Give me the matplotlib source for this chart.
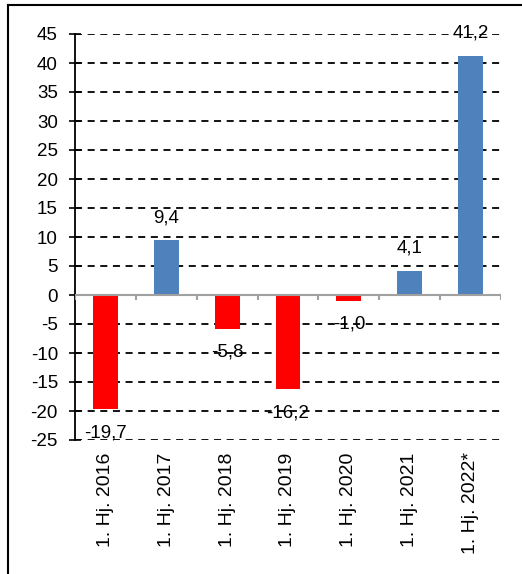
import matplotlib
matplotlib.use('Agg')
import matplotlib.pyplot as plt
from matplotlib.lines import Line2D

plt.rcParams.update({'font.family': ['Liberation Sans', 'DejaVu Sans'], 'font.size': 13.5})

categories = ['1. Hj. 2016', '1. Hj. 2017', '1. Hj. 2018', '1. Hj. 2019',
              '1. Hj. 2020', '1. Hj. 2021', '1. Hj. 2022*']
values = [-19.7, 9.4, -5.8, -16.2, -1.0, 4.1, 41.2]
labels = ['-19,7', '9,4', '-5,8', '-16,2', '-1,0', '4,1', '41,2']
yticks = list(range(-25, 50, 5))

W, H = 522, 574
fig = plt.figure(figsize=(W/100, H/100), dpi=100, facecolor='white')
ax = fig.add_axes([75/W, 1-440/H, (501-75)/W, (440-34)/H])

x = list(range(len(categories)))
colors = ['#4F81BD' if v >= 0 else '#FF0000' for v in values]
ax.bar(x, values, width=0.41, color=colors, zorder=3)

ax.set_xlim(-0.5, len(categories)-0.5)
ax.set_ylim(-25, 45)
ax.set_yticks(yticks)
ax.set_yticklabels([str(t) for t in yticks])
ax.tick_params(axis='y', direction='inout', length=8.6, width=1.2, color='black', pad=8)

ax.set_xticks(x)
ax.set_xticklabels(categories, rotation=90, fontsize=14)
ax.tick_params(axis='x', length=0, pad=9)

for t in yticks:
    if t != 0:
        ax.axhline(t, color='black', lw=1.3, ls=(0, (3.9, 3.1)), zorder=1)
ax.axhline(0, color='#A0A0A0', lw=1.5, zorder=4)
ax.vlines([i - 0.5 for i in range(len(categories)+1)], 0, -0.85,
          color='#A0A0A0', lw=1.5, zorder=4)

for s in ['top', 'right', 'bottom']:
    ax.spines[s].set_visible(False)
ax.spines['left'].set_linewidth(1.3)

for i, (v, lab) in enumerate(zip(values, labels)):
    off = 16.5 if v >= 0 else -17
    ax.annotate(lab, xy=(i, v), xytext=(0, off), textcoords='offset points',
                ha='center', va='center', zorder=5)

# outer frame (top and left only)
fig.add_artist(Line2D([8/W, 1], [1-5/H, 1-5/H], color='black', lw=1.5))
fig.add_artist(Line2D([8/W, 8/W], [0, 1-5/H], color='black', lw=1.5))

fig.savefig('out.png', dpi=100, facecolor='white')
